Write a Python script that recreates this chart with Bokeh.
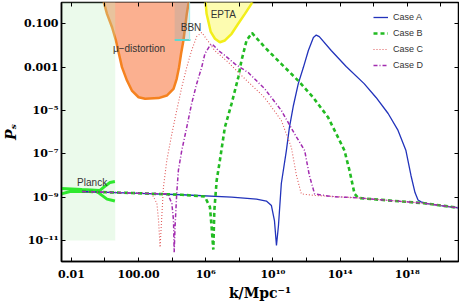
from bokeh.plotting import figure
from bokeh.models import (Range1d, FixedTicker, CustomJSTickFormatter, LogAxis,
                          Legend, LegendItem)
from bokeh.core.properties import value
from bokeh.embed import file_html
from bokeh.resources import INLINE

# ---- data (log10 k [Mpc^-1], log10 P_s) ----
case_a_logk = [-1.37, 1.60, 4.57, 7.54, 9.02, 9.61, 9.91, 10.09, 10.21, 10.33, 10.50, 10.80,
               10.98, 11.22, 11.51, 11.81, 12.11, 12.41, 12.58, 12.76, 13.47, 14.36, 15.43,
               16.14, 16.86, 17.45, 17.92, 18.22, 18.46, 18.64, 18.82, 19.11, 20.00, 21.01]
case_a_logp = [-8.74, -8.81, -8.89, -9.00, -9.09, -9.18, -9.39, -10.08, -11.23, -10.31, -8.37,
               -6.85, -5.79, -4.77, -3.76, -3.02, -2.23, -1.63, -1.52, -1.59, -2.23, -2.97,
               -3.76, -4.40, -5.14, -5.92, -6.85, -8.00, -8.79, -9.13, -9.22, -9.29, -9.39, -9.49]

case_b_logk = [-1.37, 1.60, 4.57, 5.94, 6.25, 6.35, 6.45, 6.51, 6.65, 6.84, 7.14, 7.54, 7.94,
               8.13, 8.43, 8.75, 9.51, 10.50, 11.50, 12.39, 13.28, 13.87, 14.26, 14.56, 14.86,
               15.08, 18.99, 21.01]
case_b_logp = [-8.74, -8.81, -8.89, -8.97, -9.46, -10.39, -11.42, -9.62, -8.23, -7.31, -5.77,
               -4.68, -3.46, -2.69, -1.77, -1.42, -2.08, -2.85, -3.62, -4.39, -5.31, -6.23,
               -6.85, -7.77, -8.85, -9.04, -9.28, -9.49]

case_c_logk = [-1.37, 1.60, 2.79, 3.09, 3.19, 3.28, 3.38, 3.48, 3.68, 3.98, 4.27, 4.57, 4.87,
               5.16, 5.46, 5.76, 6.11, 6.53, 7.36, 8.13, 9.50, 10.50, 11.10, 11.40, 11.69,
               12.46, 14.96, 18.99, 21.01]
case_c_logp = [-8.74, -8.81, -8.84, -9.29, -10.08, -11.31, -9.93, -8.54, -7.31, -6.08, -5.00,
               -3.93, -3.00, -2.23, -1.59, -1.40, -1.77, -2.23, -2.79, -3.39, -4.40, -5.46,
               -6.71, -8.00, -8.85, -8.92, -9.03, -9.28, -9.49]

case_d_logk = [-1.37, 1.60, 3.74, 3.98, 4.08, 4.12, 4.17, 4.27, 4.37, 4.57, 4.87, 5.16, 5.46,
               5.76, 5.95, 6.25, 6.38, 6.75, 7.14, 7.73, 8.53, 9.51, 10.50, 11.29, 11.89,
               12.17, 12.48, 13.47, 14.96, 18.99, 21.01]
case_d_logp = [-8.74, -8.81, -8.85, -9.29, -10.08, -11.54, -10.39, -8.85, -7.77, -6.85, -5.77,
               -4.68, -3.77, -3.00, -2.38, -2.00, -1.93, -2.23, -2.46, -2.85, -3.25, -4.00,
               -5.00, -6.08, -6.85, -8.00, -8.85, -8.97, -9.03, -9.28, -9.49]

# constraint regions
mu_logk = [-0.18, 0.12, 0.42, 0.65, 0.83, 1.01, 1.31, 1.60, 2.00, 2.39, 3.19, 3.68, 4.08,
           4.27, 4.41, 4.53, 4.67, 4.77, 4.87, 5.05]
mu_logp = [0.3, -0.54, -1.16, -1.77, -2.38, -3.00, -3.62, -4.08, -4.39, -4.46, -4.43, -4.31,
           -4.00, -3.54, -3.00, -2.38, -1.77, -1.16, -0.54, 0.3]

epta_logk = [5.95, 6.05, 6.17, 6.29, 6.55, 6.84, 7.14, 7.54, 7.93, 8.33, 8.72, 8.90]
epta_logp = [0.3, -0.54, -0.94, -1.36, -1.69, -1.85, -1.77, -1.46, -1.00, -0.54, -0.08, 0.3]

bbn_logk = [4.15, 5.04]
bbn_logp_bottom = -1.75

planck_band_logk = [-3.0, 0.61]
planck_band_logp = [-11.0, 1.0]
planck_up_logk = [-2.6, -1.37, -0.30, 0.06, 0.30, 0.59]
planck_up_logp = [-8.60, -8.65, -8.69, -8.46, -8.32, -8.28]
planck_lo_logk = [-2.6, -2.08, -0.47, -0.18, 0.12, 0.59]
planck_lo_logp = [-8.85, -8.74, -8.74, -8.92, -9.09, -9.18]

# ticks
x_tick_exps = [-2, 2, 6, 10, 14, 18]
x_tick_labels = ["0.01", "100.00", "10⁶", "10¹⁰", "10¹⁴", "10¹⁸"]
x_minor_exps = [0, 4, 8, 12, 16, 20]
y_tick_exps = [-1, -3, -5, -7, -9, -11]
y_tick_labels = ["0.100", "0.001", "10⁻⁵", "10⁻⁷", "10⁻⁹", "10⁻¹¹"]

case_labels = ["Case A", "Case B", "Case C", "Case D"]


def pw(vals):
    return [10.0 ** v for v in vals]


p = figure(width=459, height=306, x_axis_type="log", y_axis_type="log",
           output_backend="svg", toolbar_location=None,
           x_range=Range1d(10 ** -2.59, 10 ** 21.05),
           y_range=Range1d(10 ** -11.97, 10 ** -0.017),
           min_border_left=59, min_border_right=1, min_border_top=2, min_border_bottom=45)
p.xgrid.visible = False
p.ygrid.visible = False
p.outline_line_color = "black"
p.outline_line_width = 1.5
p.background_fill_color = "white"

# regions
p.patch(pw(mu_logk), pw(mu_logp), fill_color="#fbb090", line_color="#f5821f", line_width=2.5)
p.patch(pw([bbn_logk[0], bbn_logk[1], bbn_logk[1], bbn_logk[0]]),
        pw([bbn_logp_bottom, bbn_logp_bottom, 0.3, 0.3]),
        fill_color="#9aa8a8", fill_alpha=0.3, line_color=None)
p.line(pw([bbn_logk[0], bbn_logk[1] + 0.05]), pw([bbn_logp_bottom, bbn_logp_bottom]),
       line_color="#5fd8d0", line_width=2)
p.line(pw([bbn_logk[1], bbn_logk[1]]), pw([bbn_logp_bottom, 0.3]),
       line_color="#9ff0f0", line_width=1)
p.patch(pw(epta_logk), pw(epta_logp), fill_color="#fdfcb0", line_color="#f2ee1a", line_width=2.5)
p.quad(left=[10 ** planck_band_logk[0]], right=[10 ** planck_band_logk[1]],
       bottom=[10 ** planck_band_logp[0]], top=[10 ** planck_band_logp[1]],
       fill_color="#bef0be", fill_alpha=0.3, line_color=None)
p.line(pw(planck_up_logk), pw(planck_up_logp), line_color="#2ee82e", line_width=3)
p.line(pw(planck_lo_logk), pw(planck_lo_logp), line_color="#2ee82e", line_width=3)

# curves
ra = p.line(pw(case_a_logk), pw(case_a_logp), line_color="#2233bb", line_width=1.3)
rb = p.line(pw(case_b_logk), pw(case_b_logp), line_color="#22bb22", line_width=2.6,
            line_dash="4 3")
rc = p.line(pw(case_c_logk), pw(case_c_logp), line_color="#e05a5a", line_width=1.1,
            line_dash="1 2")
rd = p.line(pw(case_d_logk), pw(case_d_logp), line_color="#a22cb0", line_width=1.5,
            line_dash="4 2 1 2")

# annotations
sans = "Liberation Sans"
lab_font = value(sans)
p.text(x=[10 ** -1.66], y=[10 ** -8.32], text=["Planck"], text_font=lab_font,
       text_font_size="10px", text_color="#333333", text_baseline="middle")
p.text(x=[10 ** 0.47], y=[10 ** -2.14], text=["μ−distortion"], text_font=lab_font,
       text_font_size="10px", text_color="#333333", text_baseline="middle")
p.text(x=[10 ** 4.51], y=[10 ** -1.19], text=["BBN"], text_font=lab_font,
       text_font_size="10px", text_color="#333333", text_baseline="middle")
p.text(x=[10 ** 6.29], y=[10 ** -0.57], text=["EPTA"], text_font=lab_font,
       text_font_size="10px", text_color="#333333", text_baseline="middle")

# axes
serif = "DejaVu Serif"
x_fmt = CustomJSTickFormatter(args=dict(exps=x_tick_exps, labs=x_tick_labels), code="""
    const e = Math.round(Math.log10(tick));
    const i = exps.indexOf(e);
    return i >= 0 ? labs[i] : "";
""")
y_fmt = CustomJSTickFormatter(args=dict(exps=y_tick_exps, labs=y_tick_labels), code="""
    const e = Math.round(Math.log10(tick));
    const i = exps.indexOf(e);
    return i >= 0 ? labs[i] : "";
""")
x_ticker = FixedTicker(ticks=pw(x_tick_exps), minor_ticks=pw(x_minor_exps))
y_ticker = FixedTicker(ticks=pw(y_tick_exps), minor_ticks=[])

for ax in (p.xaxis[0], p.yaxis[0]):
    ax.major_tick_in = 4
    ax.major_tick_out = 0
    ax.minor_tick_in = 4
    ax.minor_tick_out = 0
    ax.axis_line_width = 1.5
    ax.major_label_text_font = serif
    ax.major_label_text_font_style = "bold"
    ax.major_label_text_font_size = "11px"
    ax.major_label_text_color = "black"
    ax.axis_label_text_font = serif
    ax.axis_label_text_font_size = "14px"
    ax.axis_label_text_color = "black"

p.xaxis[0].ticker = x_ticker
p.xaxis[0].formatter = x_fmt
p.xaxis[0].major_label_standoff = 6
p.xaxis[0].axis_label = "k/Mpc⁻¹"
p.xaxis[0].axis_label_text_font_style = "bold"
p.xaxis[0].axis_label_standoff = 1

p.yaxis[0].ticker = y_ticker
p.yaxis[0].formatter = y_fmt
p.yaxis[0].major_label_standoff = 3
p.yaxis[0].axis_label = "Pₛ"
p.yaxis[0].axis_label_text_font_style = "bold italic"
p.yaxis[0].axis_label_standoff = 2

blank = CustomJSTickFormatter(code="return '';")
top_ax = LogAxis(ticker=FixedTicker(ticks=pw(x_tick_exps), minor_ticks=pw(x_minor_exps)),
                 formatter=blank, major_tick_in=4, major_tick_out=0, minor_tick_in=4,
                 minor_tick_out=0, axis_line_color=None, major_label_standoff=0)
right_ax = LogAxis(ticker=FixedTicker(ticks=pw(y_tick_exps), minor_ticks=[]),
                   formatter=blank, major_tick_in=4, major_tick_out=0,
                   axis_line_color=None, major_label_standoff=0)
p.add_layout(top_ax, "above")
p.add_layout(right_ax, "right")

legend = Legend(items=[LegendItem(label=case_labels[0], renderers=[ra]),
                       LegendItem(label=case_labels[1], renderers=[rb]),
                       LegendItem(label=case_labels[2], renderers=[rc]),
                       LegendItem(label=case_labels[3], renderers=[rd])],
                location=(308, 186), border_line_alpha=0, background_fill_alpha=0,
                glyph_width=15, glyph_height=12, label_height=12, spacing=4,
                padding=4, margin=0, label_standoff=5,
                label_text_font=sans, label_text_font_size="9px",
                label_text_color="#333333")
p.add_layout(legend)

open("out.html", "w").write(file_html(p, INLINE))
